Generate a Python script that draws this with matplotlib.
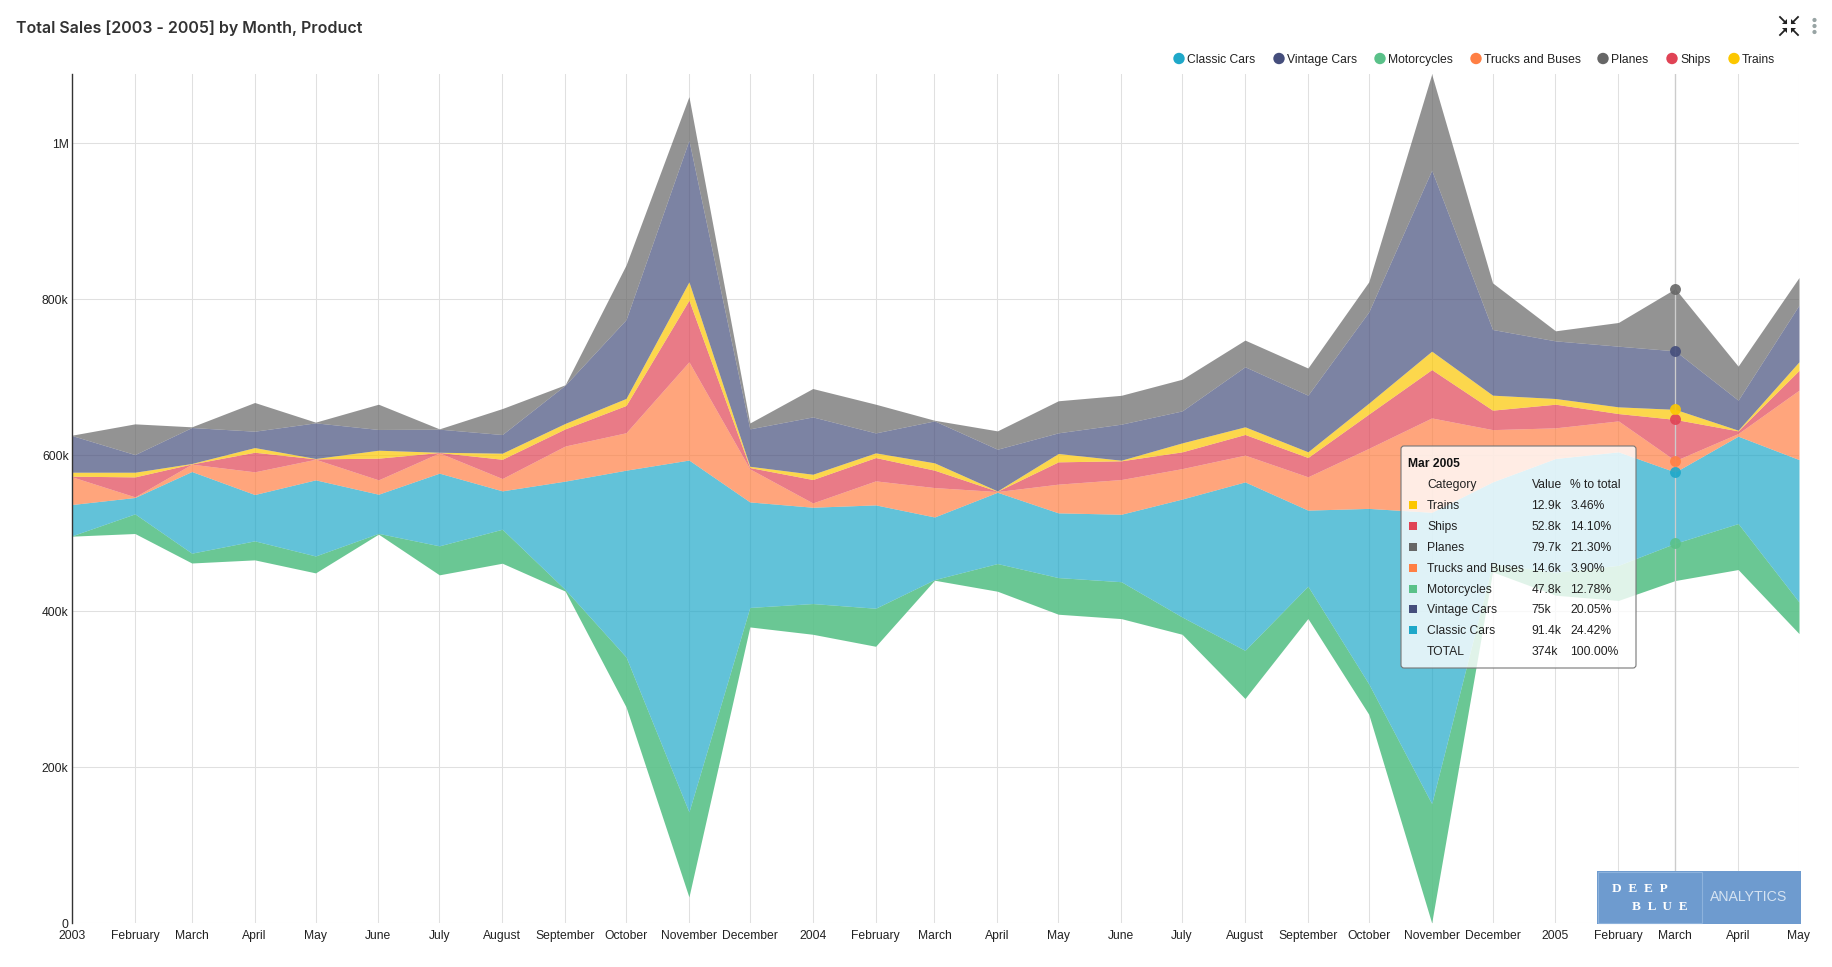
import numpy as np
import pandas as pd
import matplotlib
matplotlib.use('Agg')
import matplotlib.pyplot as plt
from matplotlib.patches import FancyBboxPatch, Rectangle, Circle, Polygon
from matplotlib.lines import Line2D
from matplotlib.transforms import Affine2D

W, H = 1832, 967

plt.rcParams['font.family'] = ['Liberation Sans', 'DejaVu Sans']

tick_labels = ['2003', 'February', 'March', 'April', 'May', 'June', 'July', 'August',
               'September', 'October', 'November', 'December',
               '2004', 'February', 'March', 'April', 'May', 'June', 'July', 'August',
               'September', 'October', 'November', 'December',
               '2005', 'February', 'March', 'April', 'May']

# lower edge of the stream, in thousands
stream_bottom = [496.4, 499.8, 462, 466, 449.3, 499, 446.8, 461.7, 426, 277.5, 33.8, 380,
                 370.6, 355.2, 439.9, 425.8, 396.3, 390.7, 370.6, 288.2, 390.8, 268, 0.5, 450.6,
                 420.7, 414, 439.5, 453.6, 371.5]

# monthly sales in thousands, bottom layer first
motorcycles = [0.5, 25.2, 12.6, 24.4, 21.7, 1, 37.2, 43.6, 2, 64.1, 109, 25,
               39.4, 48.8, 0.8, 35.5, 47, 47.3, 22.2, 61.8, 41.5, 39, 153, 10.4,
               29.3, 45, 47.8, 59, 40.5]
classic_cars = [40.1, 21, 104.7, 59.4, 97.6, 50.2, 93.2, 49.2, 139, 239.4, 451.2, 135.3,
                123.5, 132.5, 80.3, 91.4, 83, 86.5, 151.2, 216, 97.5, 225, 373.5, 105,
                146, 145.5, 91.4, 112, 182.6]
trucks = [35.5, 0.8, 9.4, 29.1, 26.4, 18.4, 26, 15.8, 45, 48, 126, 42.4,
          5.5, 30.8, 37.7, 0.9, 36.8, 44.5, 39, 34.3, 42.7, 77, 121, 67,
          39.3, 39.7, 14.6, 3.4, 89]
ships = [0.8, 25.6, 0.3, 25.1, 0.5, 27.8, 0.5, 24.7, 22, 35, 79, 1.7,
         30, 29.9, 22.3, 0.4, 28.6, 24, 21.5, 26.5, 24.8, 44, 62, 25,
         30.3, 9.4, 52.8, 3.4, 25.4]
trains = [5.1, 6, 0.6, 6, 0.5, 10.2, 0.3, 7.8, 7, 9, 23.5, 1.6,
          6.8, 6, 9.4, 0.4, 10.7, 0.8, 11.5, 9.8, 7.3, 14, 23.6, 19.2,
          7.3, 8.6, 12.9, 0.9, 11]
vintage_cars = [47, 22.6, 46.1, 21, 45.7, 26.6, 29.6, 23.9, 49, 101, 181.5, 48,
                73.5, 25.6, 53.8, 53.5, 26.5, 46.2, 41, 77, 72.6, 117, 232.1, 84.2,
                73.9, 77.8, 75, 38.5, 72.6]
planes = [0.5, 39.4, 0.9, 36.8, 0.9, 32.4, 0.4, 33.3, 0.5, 70, 56, 7.5,
          36.4, 36.8, 0.8, 23.5, 41.1, 37, 40.6, 34.2, 34.8, 38.5, 123.1, 59.8,
          12.9, 30.4, 79.7, 43.6, 35.4]

layers = [motorcycles, classic_cars, trucks, ships, trains, vintage_cars, planes]
layer_colors = ['#5AC189', '#1FA8C9', '#FF7F44', '#E04355', '#FCC700', '#454E7C', '#666666']
layer_alpha = [0.9, 0.7, 0.7, 0.7, 0.7, 0.7, 0.7]

legend_names = ['Classic Cars', 'Vintage Cars', 'Motorcycles', 'Trucks and Buses', 'Planes', 'Ships', 'Trains']
legend_colors = ['#1FA8C9', '#454E7C', '#5AC189', '#FF7F44', '#666666', '#E04355', '#FCC700']
legend_x = [1179, 1279, 1380, 1476, 1603, 1672, 1734]

tip_names = ['Trains', 'Ships', 'Planes', 'Trucks and Buses', 'Motorcycles', 'Vintage Cars', 'Classic Cars', 'TOTAL']
tip_values = ['12.9k', '52.8k', '79.7k', '14.6k', '47.8k', '75k', '91.4k', '374k']
tip_pcts = ['3.46%', '14.10%', '21.30%', '3.90%', '12.78%', '20.05%', '24.42%', '100.00%']
tip_colors = ['#FCC700', '#E04355', '#666666', '#FF7F44', '#5AC189', '#454E7C', '#1FA8C9', None]

months = pd.date_range('2003-01-01', periods=len(tick_labels), freq='MS')
hover = 26  # Mar 2005

fig = plt.figure(figsize=(W / 100, H / 100), dpi=100, facecolor='white')
ax = fig.add_axes([72 / W, 1 - 923.3 / H, (1799 - 72) / W, (923.3 - 74) / H])
# pixels measured from the top left, for the parts around the chart
px = Affine2D().scale(1, -1).translate(0, H)

edges = stream_bottom + np.cumsum(np.array(layers) * 1.0, axis=0)
edges = np.vstack([stream_bottom, edges]) * 1000

ax.set_axisbelow(True)
ax.grid(True, color='#e0e0e0', linewidth=0.75)
for i, color in enumerate(layer_colors):
    ax.fill_between(months, edges[i], edges[i + 1], color=color, alpha=layer_alpha[i], linewidth=0, zorder=2)

ax.set_xlim(months[0], months[-1])
ax.set_ylim(0, 1089000)
ax.set_xticks(months, tick_labels)
ax.set_yticks([0, 200000, 400000, 600000, 800000, 1000000], ['0', '200k', '400k', '600k', '800k', '1M'])
ax.tick_params(axis='both', length=0, labelsize=8.7, labelcolor='#222222')
ax.tick_params(axis='x', pad=4.5)
ax.tick_params(axis='y', pad=2.5)
for side in ['top', 'right', 'bottom']:
    ax.spines[side].set_visible(False)
ax.spines['left'].set_color('#333333')
ax.spines['left'].set_linewidth(1)

# hovered month
ax.axvline(months[hover], color='#cccccc', linewidth=0.95, zorder=3)
for i, color in enumerate(layer_colors):
    ax.scatter(months[hover], edges[i + 1][hover], s=62, color=color, alpha=0.9, linewidth=0, zorder=4, clip_on=False)

fig.text(16, 33, 'Total Sales [2003 - 2005] by Month, Product', transform=px, family=['Inter', 'DejaVu Sans'],
         fontsize=11.5, fontweight=600, color='#323232', va='baseline')

# legend
for x, name, color in zip(legend_x, legend_names, legend_colors):
    fig.add_artist(Circle((x, 58.5), 5.7, transform=px, color=color, linewidth=0))
    fig.text(x + 8, 63.2, name, transform=px, fontsize=8.7, color='#222222', va='baseline')

# top right icons
cx, cy = 1789, 26
for sx in [-1, 1]:
    for sy in [-1, 1]:
        fig.add_artist(Line2D([cx + sx * 9, cx + sx * 3], [cy + sy * 9, cy + sy * 3], transform=px,
                              color='#222222', linewidth=1.3))
        fig.add_artist(Polygon([(cx + sx * 2, cy + sy * 2), (cx + sx * 7, cy + sy * 2), (cx + sx * 2, cy + sy * 7)],
                               transform=px, color='#222222', linewidth=0))
for dot_y in [20, 26, 32]:
    fig.add_artist(Circle((1814.5, dot_y), 2.1, transform=px, color='#98a4a4', linewidth=0))

# tooltip
fig.add_artist(FancyBboxPatch((1401, 446), 235, 222, boxstyle='round,pad=0,rounding_size=3', mutation_aspect=1,
                              transform=px, facecolor=(1, 1, 1, 0.8), edgecolor='#777777', linewidth=0.8, zorder=5))
tip_font = dict(transform=px, fontsize=8.7, color='#222222', va='baseline', zorder=6)
fig.text(1408, 467.2, 'Mar 2005', transform=px, fontsize=8.7, fontweight='bold', color='#111111', va='baseline', zorder=6)
fig.text(1427, 488.2, 'Category', **tip_font)
fig.text(1531.5, 488.2, 'Value', **tip_font)
fig.text(1570.5, 488.2, '% to total', **tip_font)
for row in range(len(tip_names)):
    y = round(505.4 + row * 20.8)
    if tip_colors[row]:
        fig.add_artist(Rectangle((1409, y - 4), 8, 8, transform=px, color=tip_colors[row], linewidth=0, zorder=6))
    fig.text(1427, y + 4.2, tip_names[row], **tip_font)
    fig.text(1531.5, y + 4.2, tip_values[row], **tip_font)
    fig.text(1570.5, y + 4.2, tip_pcts[row], **tip_font)

# logo
fig.add_artist(Rectangle((1597, 871), 204, 53, transform=px, color='#6E9BCF', linewidth=0, zorder=5))
fig.add_artist(Rectangle((1598, 872), 104, 51, transform=px, facecolor='none', edgecolor='#8DB2DC', linewidth=0.8, zorder=5))
fig.text(1612, 892.2, 'D  E  E  P', transform=px, family='Liberation Serif', fontweight='bold', fontsize=9.5,
         color='white', va='baseline', zorder=6)
fig.text(1632, 910.2, 'B  L  U  E', transform=px, family='Liberation Serif', fontweight='bold', fontsize=9.5,
         color='white', va='baseline', zorder=6)
fig.text(1710, 901.2, 'ANALYTICS', transform=px, fontsize=10.2, color='#D5E3F2', va='baseline', zorder=6)

fig.savefig('out.png', dpi=100)
